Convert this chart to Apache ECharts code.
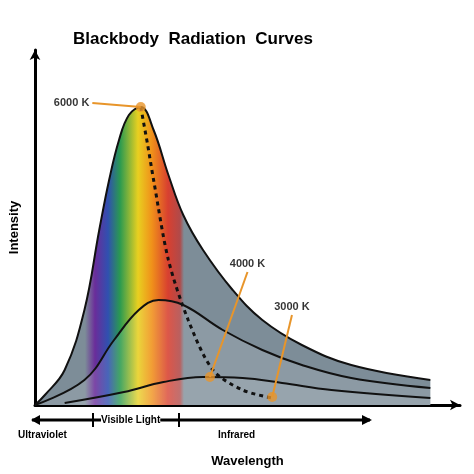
<!DOCTYPE html>
<html><head><meta charset="utf-8">
<script src="https://cdn.jsdelivr.net/npm/echarts@6/dist/echarts.min.js"></script>
<style>body{margin:0;background:#fff}#main{width:474px;height:474px}</style>
</head><body><div id="main"></div>
<script>
// wavelength (arbitrary units) / intensity (arbitrary units)
const curve6000 = [[0,0],[10,10],[30,35],[50,95],[65,175],[75,225],[85,265],[95,290],[107,298],[120,275],[135,230],[150,190],[170,155],[200,115],[230,85],[270,60],[320,40],[400,25]];
const curve4000 = [[0,0],[50,25],[80,65],[105,95],[125,105],[150,100],[190,75],[230,55],[270,40],[320,27],[400,17]];
const curve3000 = [[30,2],[90,13],[130,23],[170,28],[210,27],[250,22],[300,15],[400,7]];
const peakLine = [[107,298],[114,260],[120,225],[135,145],[155,85],[180,35],[210,15],[240,7]];
const peaks = [[107,298],[177,28],[240,8]];
const peakNames = ['6000 K','4000 K','3000 K'];
const labelPos = [[58,302],[215,133],[260,90]];
const labelSide = ['left','top','top'];

const chart = echarts.init(document.getElementById('main'));
const spectrum = new echarts.graphic.LinearGradient(0, 0, 474, 0, [
  {offset: 0, color: '#7d8d98'}, {offset: 85/474, color: '#7d8d98'},
  {offset: 95/474, color: '#6a2d9a'}, {offset: 108/474, color: '#3050b0'},
  {offset: 120/474, color: '#2a9a50'}, {offset: 138/474, color: '#e8d020'},
  {offset: 152/474, color: '#f0901a'}, {offset: 168/474, color: '#d84030'},
  {offset: 180/474, color: '#b04a4a'}, {offset: 184/474, color: '#7d8d98'},
  {offset: 1, color: '#7d8d98'}
], true);
const orange = '#e8952a';
const bold = {fontFamily: 'Liberation Sans', fontWeight: 'bold', color: '#000'};

chart.setOption({
  animation: false,
  title: {text: 'Blackbody  Radiation  Curves', left: 68, top: 26,
    textStyle: {...bold, fontSize: 17}},
  grid: {left: 30, right: 14, top: 50, bottom: 69},
  xAxis: {type: 'value', min: 0, max: 430, name: 'Wavelength', nameLocation: 'middle', nameGap: 50,
    nameTextStyle: {...bold, fontSize: 13},
    axisLine: {lineStyle: {color: '#000', width: 3}, symbol: ['none', 'arrow'], symbolSize: [8, 10]},
    axisTick: {show: false}, axisLabel: {show: false}, splitLine: {show: false}},
  yAxis: {type: 'value', min: 0, max: 355, name: 'Intensity', nameLocation: 'middle', nameGap: 14,
    nameTextStyle: {...bold, fontSize: 13},
    axisLine: {show: true, lineStyle: {color: '#000', width: 3}, symbol: ['none', 'arrow'], symbolSize: [8, 10]},
    axisTick: {show: false}, axisLabel: {show: false}, splitLine: {show: false}},
  series: [
    {type: 'line', data: curve6000, smooth: 0.4, symbol: 'none',
      lineStyle: {color: '#111', width: 2}, areaStyle: {color: spectrum, opacity: 1}},
    {type: 'line', data: curve4000, smooth: 0.4, symbol: 'none',
      lineStyle: {color: '#111', width: 2}, areaStyle: {color: 'rgba(255,255,255,0.12)', opacity: 1}},
    {type: 'line', data: curve3000, smooth: 0.4, symbol: 'none',
      lineStyle: {color: '#111', width: 2}, areaStyle: {color: 'rgba(255,255,255,0.1)', opacity: 1}},
    {type: 'line', data: peakLine, smooth: 0.3, symbol: 'none',
      lineStyle: {color: '#111', width: 3, type: [4, 4]}},
    ...peaks.map((p, i) => ({type: 'line', data: [labelPos[i], p], symbol: 'none',
      lineStyle: {color: orange, width: 2}})),
    {type: 'scatter', data: peaks, symbolSize: 10, itemStyle: {color: orange}, z: 5},
    {type: 'scatter', symbolSize: 0,
      data: labelPos.map((p, i) => ({value: p, name: peakNames[i],
        label: {position: labelSide[i]}})),
      label: {show: true, formatter: '{b}', ...bold, fontSize: 11, distance: 3}}
  ],
  graphic: [
    {type: 'line', shape: {x1: 32, y1: 420, x2: 370, y2: 420}, style: {stroke: '#000', lineWidth: 3}},
    {type: 'polygon', shape: {points: [[31,420],[40,415],[40,425]]}, style: {fill: '#000'}},
    {type: 'polygon', shape: {points: [[372,420],[362,415],[362,425]]}, style: {fill: '#000'}},
    {type: 'line', shape: {x1: 93, y1: 413, x2: 93, y2: 427}, style: {stroke: '#000', lineWidth: 2}},
    {type: 'line', shape: {x1: 179, y1: 413, x2: 179, y2: 427}, style: {stroke: '#000', lineWidth: 2}},
    {type: 'text', left: 18, top: 430, style: {text: 'Ultraviolet', font: 'bold 10px Liberation Sans'}},
    {type: 'text', left: 101, top: 415, style: {text: 'Visible Light', font: 'bold 10px Liberation Sans', backgroundColor: '#fff'}},
    {type: 'text', left: 218, top: 430, style: {text: 'Infrared', font: 'bold 10px Liberation Sans'}}
  ]
});
</script></body></html>
